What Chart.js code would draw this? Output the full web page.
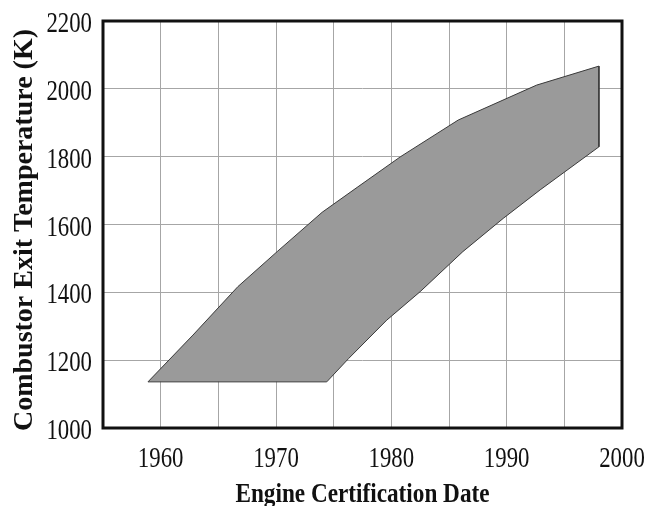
<!DOCTYPE html>
<html>
<head>
<meta charset="utf-8">
<script src="https://cdn.jsdelivr.net/npm/chart.js@4"></script>
<style>
  html, body { margin: 0; padding: 0; background: #ffffff; }
  #wrap { width: 649px; height: 506px; }
</style>
</head>
<body>
<div id="wrap"><canvas id="c" width="649" height="506"></canvas></div>
<script>
// Upper edge of the band (hottest engines certified in each year)
const upperYears = [1958.9, 1962.8, 1966.7, 1970.1, 1974.0, 1977.1, 1980.8, 1985.8, 1992.6, 1998.0];
const upperTemps = [1136, 1274, 1417, 1520, 1636, 1711, 1800, 1908, 2011, 2067];

// Lower edge of the band (coolest engines), left to right
const lowerYears = [1974.4, 1976.3, 1979.6, 1982.5, 1986.2, 1989.7, 1992.9, 1998.0];
const lowerTemps = [1136, 1205, 1318, 1402, 1520, 1618, 1702, 1829];

// Axis tick labels
const xTickLabels = [1960, 1970, 1980, 1990, 2000];
const yTickLabels = [1000, 1200, 1400, 1600, 1800, 2000, 2200];

const xTitle = 'Engine Certification Date';
const yTitle = 'Combustor Exit Temperature (K)';

// Closed outline: along the upper edge, down the right side, back along the lower edge
const band = [];
upperYears.forEach((yr, i) => band.push({ x: yr, y: upperTemps[i] }));
for (let i = lowerYears.length - 1; i >= 0; i--) band.push({ x: lowerYears[i], y: lowerTemps[i] });
band.push({ x: upperYears[0], y: upperTemps[0] });

const SERIF = "'Liberation Serif', 'Times New Roman', serif";

// Draws a text horizontally squeezed by factor sx around its anchor
function squeezedText(ctx, text, x, y, sx, align) {
  ctx.save();
  ctx.translate(x, y);
  ctx.scale(sx, 1);
  ctx.textAlign = align;
  ctx.fillText(text, 0, 0);
  ctx.restore();
}

const frameAndText = {
  id: 'frameAndText',
  afterDraw(chart) {
    const { ctx, chartArea: a, scales: { x, y } } = chart;
    ctx.save();
    // heavy frame round the plot
    ctx.strokeStyle = '#111111';
    ctx.lineWidth = 3;
    ctx.strokeRect(a.left, a.top, a.right - a.left, a.bottom - a.top);

    ctx.fillStyle = '#111111';
    ctx.textBaseline = 'alphabetic';
    ctx.font = '30px ' + SERIF;
    yTickLabels.forEach(v => {
      squeezedText(ctx, String(v), a.left - 11, y.getPixelForValue(v) + 11, 0.76, 'right');
    });
    xTickLabels.forEach(v => {
      squeezedText(ctx, String(v), x.getPixelForValue(v), a.bottom + 39, 0.76, 'center');
    });

    ctx.font = 'bold 27px ' + SERIF;
    squeezedText(ctx, xTitle, (a.left + a.right) / 2, a.bottom + 74, 0.86, 'center');

    ctx.font = 'bold 28px ' + SERIF;
    ctx.translate(32, 230);
    ctx.rotate(-Math.PI / 2);
    ctx.textAlign = 'center';
    ctx.fillText(yTitle, 0, 0);
    ctx.restore();
  }
};

new Chart(document.getElementById('c'), {
  type: 'scatter',
  data: {
    datasets: [{
      data: band,
      showLine: true,
      fill: 'shape',
      backgroundColor: '#9a9a9a',
      borderColor: '#3a3a3a',
      borderWidth: 1,
      pointRadius: 0,
      tension: 0
    }]
  },
  options: {
    responsive: false,
    animation: false,
    devicePixelRatio: 1,
    layout: { padding: { left: 0, right: 27, top: 21, bottom: 0 } },
    plugins: { legend: { display: false }, tooltip: { enabled: false } },
    scales: {
      x: {
        type: 'linear',
        min: 1955, max: 2000,
        ticks: { display: false, stepSize: 5 },
        grid: { color: '#a6a6a6', lineWidth: 1, drawTicks: false },
        border: { display: false },
        afterFit(s) { s.height = 78; }
      },
      y: {
        type: 'linear',
        min: 1000, max: 2200,
        ticks: { display: false, stepSize: 200 },
        grid: { color: '#a6a6a6', lineWidth: 1, drawTicks: false },
        border: { display: false },
        afterFit(s) { s.width = 103; }
      }
    }
  },
  plugins: [frameAndText]
});
</script>
</body>
</html>
